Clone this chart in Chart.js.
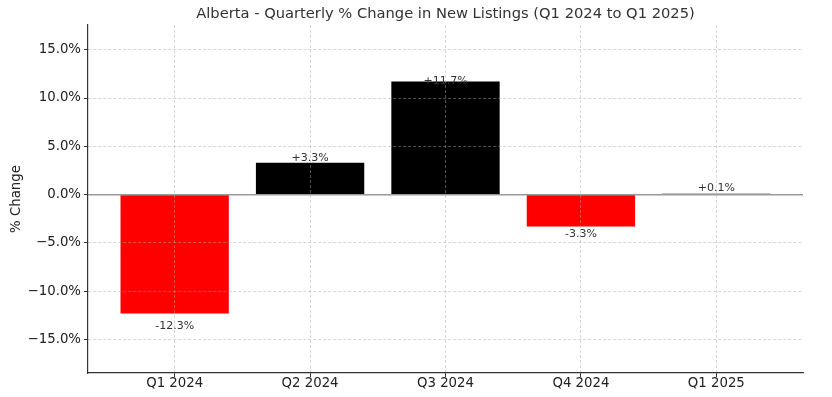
<!DOCTYPE html>
<html>
<head>
<meta charset="utf-8">
<script src="https://cdn.jsdelivr.net/npm/chart.js@4.4.1/dist/chart.umd.min.js"></script>
<style>
  html, body { margin: 0; padding: 0; background: #fff; }
  .chart-box { width: 832px; height: 397px; }
</style>
</head>
<body>
<div class="chart-box"><canvas id="listings-chart"></canvas></div>
<script>
// Data
const quarters = ['Q1 2024', 'Q2 2024', 'Q3 2024', 'Q4 2024', 'Q1 2025'];
const changes = [-12.3, 3.3, 11.7, -3.3, 0.1];
const yTicks = [-15, -10, -5, 0, 5, 10, 15];
const yMin = -18.45;
const yMax = 17.55;

const fontFamily = '"DejaVu Sans", sans-serif';

// Format a tick value like 10.0% / −5.0% (unicode minus, as on the axis)
function tickLabel(value) {
  return value.toFixed(1).replace('-', '\u2212') + '%';
}

// Zero line and value labels, drawn on top of everything
const zeroLineAndLabels = {
  id: 'zeroLineAndLabels',
  afterDraw(chart) {
    const { ctx, chartArea, scales: { x, y } } = chart;
    const zeroY = y.getPixelForValue(0);

    ctx.save();
    ctx.strokeStyle = '#9a9a9a';
    ctx.lineWidth = 1.5;
    ctx.beginPath();
    ctx.moveTo(chartArea.left, zeroY);
    ctx.lineTo(chartArea.right, zeroY);
    ctx.stroke();

    ctx.font = '11px ' + fontFamily;
    ctx.fillStyle = '#333';
    ctx.textAlign = 'center';
    ctx.textBaseline = 'alphabetic';
    changes.forEach((value, i) => {
      const px = x.getPixelForValue(i);
      let text, py;
      if (value >= 0) {
        text = '+' + value.toFixed(1) + '%';
        py = y.getPixelForValue(value * 0.96) - 2.6;
      } else {
        text = value.toFixed(1) + '%';
        py = y.getPixelForValue(value * 1.06) + 8.5;
      }
      ctx.fillText(text, px, py);
    });
    ctx.restore();
  }
};

// Grid is semi-transparent so it shows grey over black bars and pink over red ones
const gridStyle = {
  z: 1,
  offset: false,
  color: 'rgba(170, 170, 170, 0.6)',
  lineWidth: 0.8,
  tickLength: 4,
  tickColor: '#333',
  tickWidth: 1,
  tickBorderDash: []
};

const borderStyle = {
  z: 1,
  display: true,
  color: '#333',
  width: 1.2,
  dash: [3, 2]
};

const ctx = document.querySelector('#listings-chart');

new Chart(ctx, {
  type: 'bar',
  data: {
    datasets: [{
      data: changes.map((value, i) => ({ x: i, y: value })),
      backgroundColor: changes.map(value => value < 0 ? '#ff0000' : '#000000'),
      borderWidth: 0,
      barPercentage: 0.8,
      categoryPercentage: 1
    }]
  },
  options: {
    responsive: true,
    maintainAspectRatio: false,
    animation: false,
    layout: {
      padding: { left: 0, right: 29, top: 0, bottom: 0 }
    },
    plugins: {
      legend: { display: false },
      tooltip: { enabled: false },
      title: {
        display: true,
        text: 'Alberta - Quarterly % Change in New Listings (Q1 2024 to Q1 2025)',
        fullSize: false,
        color: '#333',
        font: { family: fontFamily, size: 14.7, weight: 'normal', lineHeight: 1.2 },
        padding: { top: 5, bottom: 2.4 }
      }
    },
    scales: {
      x: {
        type: 'linear',
        min: -0.64,
        max: 4.64,
        offset: false,
        afterBuildTicks: scale => {
          scale.ticks = quarters.map((q, i) => ({ value: i }));
        },
        afterFit: scale => {
          scale.height = 24;
        },
        ticks: {
          callback: value => quarters[value],
          color: '#222',
          font: { family: fontFamily, size: 13.3, lineHeight: 1 },
          padding: 0,
          maxRotation: 0,
          autoSkip: false
        },
        grid: gridStyle,
        border: borderStyle
      },
      y: {
        min: yMin,
        max: yMax,
        afterBuildTicks: scale => {
          scale.ticks = yTicks.map(v => ({ value: v }));
        },
        afterFit: scale => {
          scale.width = 88;
        },
        ticks: {
          callback: value => tickLabel(value),
          color: '#222',
          font: { family: fontFamily, size: 13.3 },
          padding: 3
        },
        title: {
          display: true,
          text: '% Change',
          color: '#222',
          font: { family: fontFamily, size: 13.3 },
          padding: { top: 9, bottom: 0 }
        },
        grid: gridStyle,
        border: borderStyle
      }
    }
  },
  plugins: [zeroLineAndLabels]
});
</script>
</body>
</html>
